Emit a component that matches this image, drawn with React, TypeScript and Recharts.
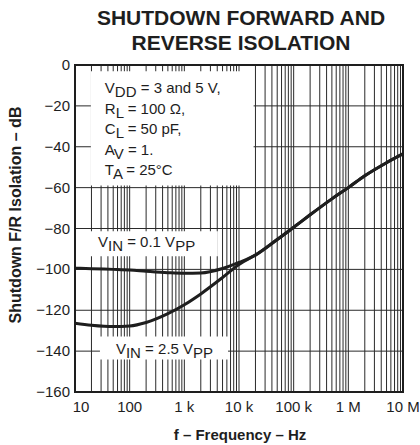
import React from "react";
import { LineChart, Line, XAxis, YAxis, CartesianGrid, ReferenceArea } from "recharts";

// frequency points (Hz) and isolation (dB)
const freqs = [10, 20, 50, 100, 200, 500, 1e3, 2e3, 5e3, 1e4, 2e4, 5e4, 1e5, 2e5, 5e5, 1e6, 2e6, 5e6, 1e7];
const vin01 = [-99.4, -99.7, -100, -100.3, -100.9, -101.6, -101.9, -101.8, -99.6, -96.6, -93, -85.4, -79.4, -73.3, -65.5, -60, -54.2, -47.8, -43.5];
const vin25 = [-126.3, -127.3, -128, -127.7, -126, -121.7, -117.3, -112, -104, -97.6, -93, -85.4, -79.4, -73.3, -65.5, -60, -54.2, -47.8, -43.5];

const decades = [10, 100, 1e3, 1e4, 1e5, 1e6, 1e7];
const decadeLabels = ["10", "100", "1 k", "10 k", "100 k", "1 M", "10 M"];
const yTicks = [0, -20, -40, -60, -80, -100, -120, -140, -160];

const data = freqs.map((f, i) => ({ f, a: vin01[i], b: vin25[i] }));

// log grid: 1..9 of each decade
const xGridTicks: number[] = [];
decades.slice(0, -1).forEach((d) => {
  for (let k = 1; k < 10; k++) xGridTicks.push(d * k);
});
xGridTicks.push(1e7);

const FONT = "'Liberation Sans', Arial, Helvetica, sans-serif";
const INK = "#1e1e1e";

type Seg = { t: string; sub?: boolean };

const segs = (main: string, sub: string, rest: string, sub2?: string): Seg[] => {
  const s: Seg[] = [{ t: main }, { t: sub, sub: true }, { t: rest }];
  if (sub2) s.push({ t: sub2, sub: true });
  return s;
};

const TextLines = ({ viewBox, lines, dx, dy, lh }: any) => {
  if (!viewBox) return null;
  const { x, y } = viewBox;
  return (
    <g>
      {lines.map((line: Seg[], i: number) => (
        <text key={i} x={x + dx} y={y + dy + i * lh} fontSize={15} fontFamily={FONT} fill={INK}>
          {line.map((s, j) => {
            const prevSub = j > 0 && line[j - 1].sub;
            const shift = s.sub ? 4 : prevSub ? -4 : 0;
            return (
              <tspan key={j} dy={shift}>
                {s.t}
              </tspan>
            );
          })}
        </text>
      ))}
    </g>
  );
};

const condLines = [
  segs("V", "DD", " = 3 and 5 V,"),
  segs("R", "L", " = 100 Ω,"),
  segs("C", "L", " = 50 pF,"),
  segs("A", "V", " = 1."),
  segs("T", "A", " = 25°C"),
];

const XTick = ({ x, y, payload }: any) => {
  const idx = decades.indexOf(payload.value);
  if (idx < 0) return null;
  return (
    <text x={x + (idx === 0 ? 6 : 0)} y={y + 20} textAnchor="middle" fontSize={15} fontFamily={FONT} fill={INK}>
      {decadeLabels[idx]}
    </text>
  );
};

const YTick = ({ x, y, payload }: any) => (
  <text x={x - 5} y={y + 5} textAnchor="end" fontSize={15} fontFamily={FONT} fill={INK}>
    {payload.value === 0 ? "0" : `\u2212${Math.abs(payload.value)}`}
  </text>
);

export default function App() {
  return (
    <div style={{ position: "absolute", left: 0, top: 0, width: 420, height: 445, background: "#fff" }}>
      <LineChart width={420} height={445} data={data} margin={{ top: 65, right: 17, bottom: 0, left: 0 }}>
        <CartesianGrid stroke="#2a2a2a" strokeWidth={1} horizontalValues={yTicks} verticalValues={xGridTicks} />
        <XAxis
          dataKey="f"
          type="number"
          scale="log"
          domain={[10, 1e7]}
          ticks={xGridTicks}
          interval={0}
          tick={<XTick />}
          tickLine={false}
          axisLine={false}
          tickSize={0}
          tickMargin={0}
          height={53}
          allowDataOverflow
        />
        <YAxis
          type="number"
          domain={[-160, 0]}
          ticks={yTicks}
          interval={0}
          tick={<YTick />}
          tickLine={false}
          axisLine={false}
          tickSize={0}
          tickMargin={0}
          width={75}
          allowDataOverflow
        />
        <ReferenceArea
          x1={19.5}
          x2={18500}
          y1={-59}
          y2={-3}
          fill="#fff"
          fillOpacity={1}
          stroke="none"
          label={(p: any) => <TextLines viewBox={p.viewBox} lines={condLines} dx={14} dy={22} lh={20.5} />}
        />
        <ReferenceArea
          x1={18.8}
          x2={4100}
          y1={-93.6}
          y2={-81.4}
          fill="#fff"
          fillOpacity={1}
          stroke="none"
          label={(p: any) => (
            <TextLines viewBox={p.viewBox} lines={[segs("V", "IN", " = 0.1 V", "PP")]} dx={8} dy={16} lh={0} />
          )}
        />
        <ReferenceArea
          x1={28.6}
          x2={6300}
          y1={-144.1}
          y2={-132.8}
          fill="#fff"
          fillOpacity={1}
          stroke="none"
          label={(p: any) => (
            <TextLines viewBox={p.viewBox} lines={[segs("V", "IN", " = 2.5 V", "PP")]} dx={16} dy={18} lh={0} />
          )}
        />
        <ReferenceArea x1={10} x2={1e7} y1={-160} y2={0} fill="none" stroke={INK} strokeWidth={2} />
        <Line dataKey="a" type="monotone" stroke={INK} strokeWidth={3} dot={false} isAnimationActive={false} />
        <Line dataKey="b" type="monotone" stroke={INK} strokeWidth={3} dot={false} isAnimationActive={false} />
      </LineChart>
      <svg
        width={420}
        height={445}
        style={{ position: "absolute", left: 0, top: 0, pointerEvents: "none" }}
        fontFamily={FONT}
        fill={INK}
      >
        <text x={241} y={25} textAnchor="middle" fontSize={21} fontWeight="bold">
          SHUTDOWN FORWARD AND
        </text>
        <text x={241} y={50} textAnchor="middle" fontSize={21} fontWeight="bold">
          REVERSE ISOLATION
        </text>
        <text x={240} y={440} textAnchor="middle" fontSize={15} fontWeight="bold">
          f – Frequency – Hz
        </text>
        <text x={21} y={215} textAnchor="middle" fontSize={16} fontWeight="bold" transform="rotate(-90 21 215)">
          Shutdown F/R Isolation – dB
        </text>
      </svg>
    </div>
  );
}
